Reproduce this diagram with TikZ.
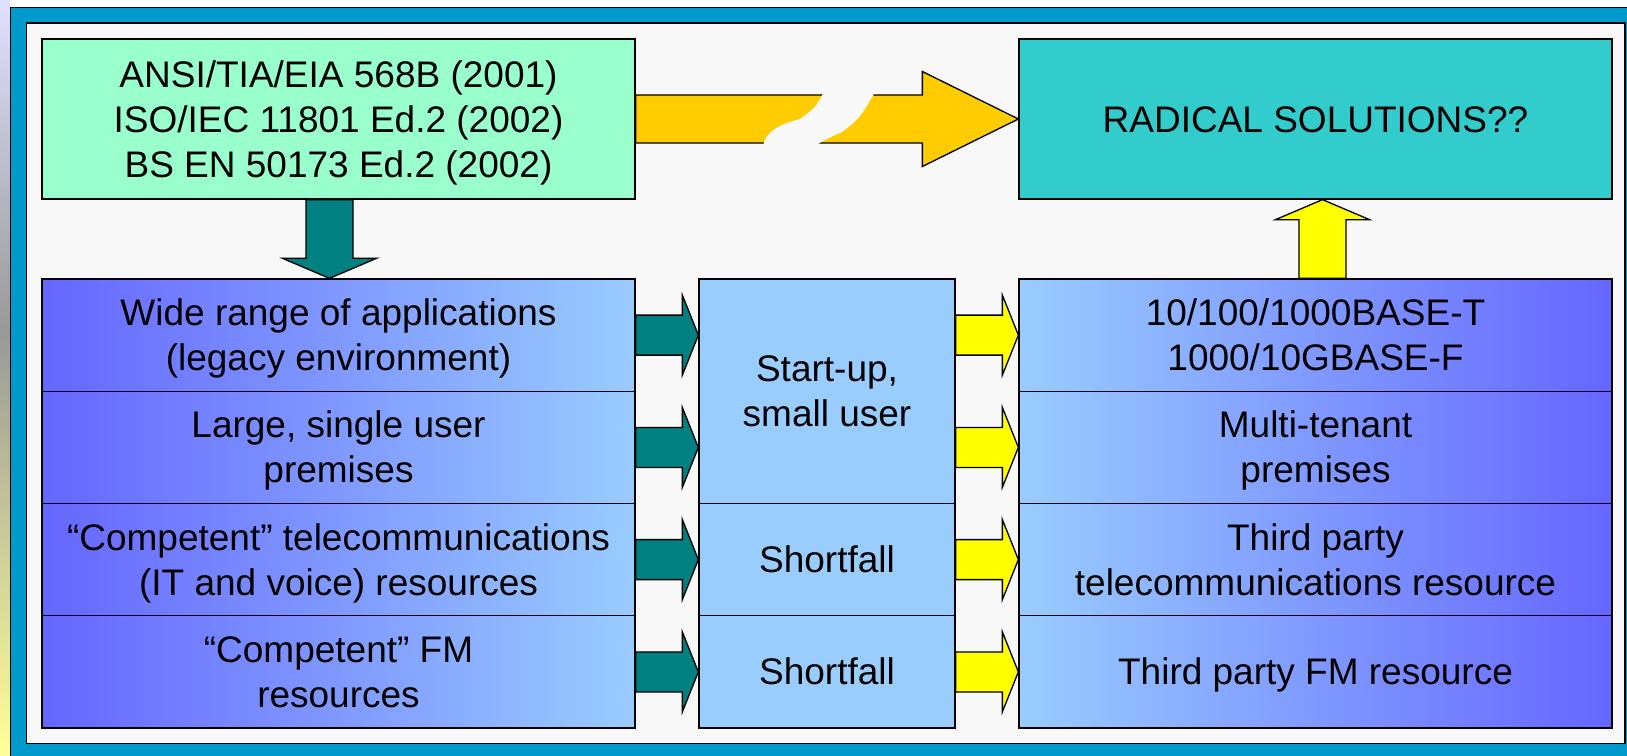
\documentclass[tikz,border=0pt]{standalone}
\usepackage{fontspec}
\setmainfont{Liberation Sans}
\usetikzlibrary{calc}

\definecolor{frameblue}{RGB}{0,153,204}
\definecolor{paper}{RGB}{248,248,248}
\definecolor{stdgreen}{RGB}{153,255,204}
\definecolor{radteal}{RGB}{51,204,204}
\definecolor{violet}{RGB}{102,102,255}
\definecolor{skyblue}{RGB}{153,204,255}
\definecolor{arrteal}{RGB}{0,128,128}
\definecolor{arryellow}{RGB}{255,255,0}
\definecolor{arrgold}{RGB}{255,204,0}

\newcommand{\cellstrut}{\rule[-8pt]{0pt}{42pt}}   % 34pt up, 8pt down

\tikzset{
  cell/.style={draw, line width=1.3pt, inner sep=0pt, align=center,
    font=\fontsize{37}{45}\selectfont, minimum width=593, minimum height=112.25,
    execute at begin node=\cellstrut, execute at end node=\cellstrut},
  needbox/.style={cell, left color=violet, right color=skyblue},
  fixbox/.style={cell, left color=skyblue, right color=violet},
  gapbox/.style={cell, fill=skyblue, minimum width=256},
  % block arrow: shaft half width, head half width, head length
  fatarrow/.style n args={3}{draw, line width=1.3pt, line join=miter, to path={
    ($(\tikztostart)!#1!90:(\tikztotarget)$)
    -- ($(\tikztotarget)!#3!(\tikztostart)!#1!90:(\tikztotarget)$)
    -- ($(\tikztotarget)!#3!(\tikztostart)!#2!90:(\tikztotarget)$)
    -- (\tikztotarget)
    -- ($(\tikztotarget)!#3!(\tikztostart)!#2!-90:(\tikztotarget)$)
    -- ($(\tikztotarget)!#3!(\tikztostart)!#1!-90:(\tikztotarget)$)
    -- ($(\tikztostart)!#1!-90:(\tikztotarget)$) -- cycle}},
  tealarrow/.style={fatarrow={20pt}{40pt}{16pt}, fill=arrteal},
  yelarrow/.style={fatarrow={20pt}{40pt}{16pt}, fill=arryellow}
}

\begin{document}
\begin{tikzpicture}[x=1pt,y=-1pt]
  \useasboundingbox (0,0) rectangle (1627,755);
  \fill[white] (0,0) rectangle (1627,755);
  \shade[top color=white!80!violet, bottom color=black!40!white] (0,0) rectangle (10,330);   % slide edge
  \shade[top color=black!40!white, bottom color=yellow!40!white] (0,330) rectangle (10,755);
  \filldraw[fill=frameblue, line width=1.3pt] (10.5,7.5) rectangle (1660,790);   % frame
  \filldraw[fill=paper, line width=1.3pt] (26.5,23) rectangle (1625,743.5);

  % top row
  \node[cell, fill=stdgreen, minimum height=160] (std) at (338.5,119)
    {\cellstrut ANSI/TIA/EIA 568B (2001)\\ISO/IEC 11801 Ed.2 (2002)\\BS EN 50173 Ed.2 (2002)};
  \node[cell, fill=radteal, minimum height=160] (radical) at (1315.5,119) {RADICAL SOLUTIONS??};

  % left column
  \node[needbox] (apps) at (338.5,335.1) {\cellstrut Wide range of applications\\(legacy environment)};
  \node[needbox] (premises) at (338.5,447.4) {\cellstrut Large, single user\\premises};
  \node[needbox] (itres) at (338.5,559.6) {\cellstrut “Competent” telecommunications\\(IT and voice) resources};
  \node[needbox] (fmres) at (338.5,671.9) {\cellstrut “Competent” FM\\resources};

  % middle column
  \node[gapbox, minimum height=224.5] (startup) at (827,391.2) {\cellstrut Start-up,\\small user};
  \node[gapbox] (shortit) at (827,559.6) {Shortfall};
  \node[gapbox] (shortfm) at (827,671.9) {Shortfall};

  % right column
  \node[fixbox] (base) at (1315.5,335.1) {\cellstrut 10/100/1000BASE-T\\1000/10GBASE-F};
  \node[fixbox] (tenant) at (1315.5,447.4) {\cellstrut Multi-tenant\\premises};
  \node[fixbox] (thirdit) at (1315.5,559.6) {\cellstrut Third party\\telecommunications resource};
  \node[fixbox] (thirdfm) at (1315.5,671.9) {Third party FM resource};

  % arrows
  \draw[fatarrow={24pt}{47.5pt}{96pt}, fill=arrgold] (std.east) to (radical.west);
  \fill[paper] (824,92) .. controls (815,108) .. (800,119) .. controls (780,124) and (765,132) .. (763,146)
    -- (815,146) .. controls (826,139) .. (842,132) .. controls (860,118) .. (875,92) -- cycle;   % break
  \draw[fatarrow={23.5pt}{47pt}{20pt}, fill=arrteal] ([xshift=-9pt]std.south) to ([xshift=-9pt]apps.north);
  \draw[fatarrow={23.5pt}{47pt}{20pt}, fill=arryellow] ([xshift=7pt]base.north) to ([xshift=7pt]radical.south);

  \draw[tealarrow] (apps.east) to (apps.east -| startup.west);
  \draw[tealarrow] (premises.east) to (premises.east -| startup.west);
  \draw[tealarrow] (itres.east) to (shortit.west);
  \draw[tealarrow] (fmres.east) to (shortfm.west);

  \draw[yelarrow] (startup.east |- base.west) to (base.west);
  \draw[yelarrow] (startup.east |- tenant.west) to (tenant.west);
  \draw[yelarrow] (shortit.east) to (thirdit.west);
  \draw[yelarrow] (shortfm.east) to (thirdfm.west);
\end{tikzpicture}
\end{document}
